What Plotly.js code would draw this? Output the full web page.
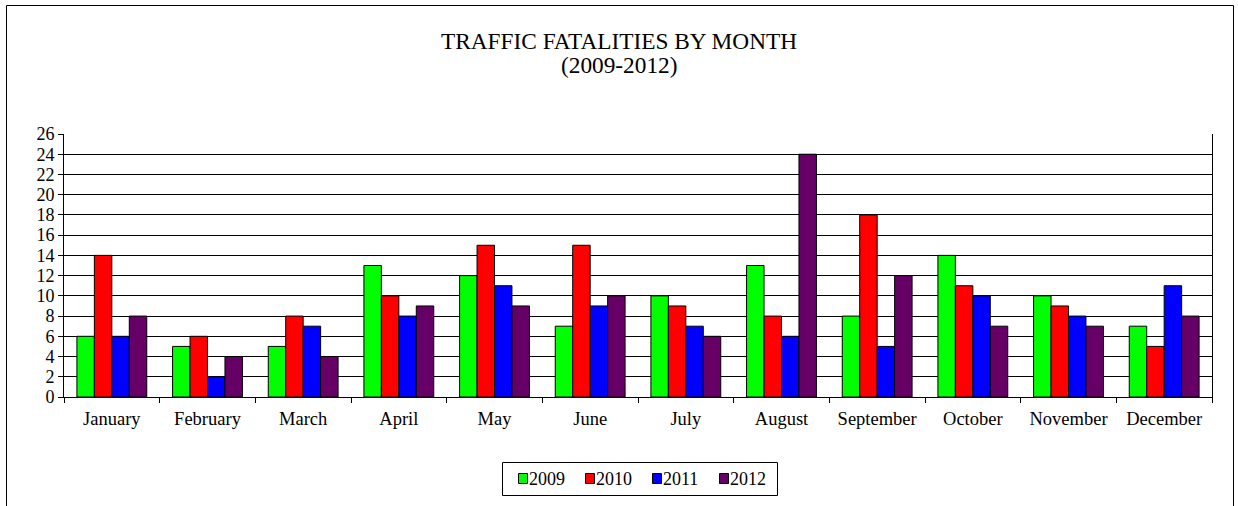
<!DOCTYPE html>
<html>
<head>
<meta charset="utf-8">
<script src="https://cdn.plot.ly/plotly-3.0.1.min.js"></script>
<style>html,body{margin:0;padding:0;background:#fff;}#chart{width:1238px;height:506px;}</style>
</head>
<body>
<div id="chart"></div>
<script>
const months = ["January","February","March","April","May","June","July","August","September","October","November","December"];
const years = ["2009","2010","2011","2012"];
const v2009 = [6,5,5,13,12,7,10,13,8,14,10,7];
const v2010 = [14,6,8,10,15,15,9,8,18,11,9,5];
const v2011 = [6,2,7,8,11,9,7,6,5,10,8,11];
const v2012 = [8,4,4,9,9,10,6,24,12,7,7,8];
const yTicks = [0,2,4,6,8,10,12,14,16,18,20,22,24,26];
const colors = ["#00ff00","#ff0000","#0000ff","#660066"];
const titleLines = ["TRAFFIC FATALITIES BY MONTH", "(2009-2012)"];
const series = [v2009, v2010, v2011, v2012];

const FONT = "Liberation Serif, Times New Roman, serif";

const traces = series.map((vals, i) => ({
  type: "bar",
  name: years[i],
  x: months,
  y: vals,
  marker: {color: colors[i], line: {color: "#000", width: 1}}
}));

const L = 64, R = 1212, T = 134, B = 397, W = 1238, H = 506;
const pw = R - L, ph = B - T;
const px = x => (x - L) / pw;
const py = y => (B - y) / ph;

const shapes = [{
  type: "rect", xref: "paper", yref: "paper",
  x0: px(6.5), x1: px(1233.5), y0: py(520), y1: py(5.5),
  line: {color: "#000", width: 1}, fillcolor: "rgba(0,0,0,0)", layer: "below"
}, {
  type: "rect", xref: "paper", yref: "paper",
  x0: px(502.5), x1: px(777.5), y0: py(495.5), y1: py(462.5),
  line: {color: "#000", width: 1}, fillcolor: "#fff", layer: "above"
}];

const annotations = [
  {text: titleLines[0], cx: 618.5, cy: 41},
  {text: titleLines[1], cx: 618.5, cy: 65.5}
].map(a => ({
  text: a.text, xref: "paper", yref: "paper",
  x: px(a.cx), y: py(a.cy),
  xanchor: "center", yanchor: "middle", showarrow: false,
  font: {family: FONT, size: 23.3, color: "#000"}
}));

years.forEach((yr, i) => {
  const sx = 518 + i * 67;
  shapes.push({
    type: "rect", xref: "paper", yref: "paper",
    x0: px(sx + 0.5), x1: px(sx + 9.5), y0: py(483.5), y1: py(473.5),
    line: {color: "#000", width: 1}, fillcolor: colors[i], layer: "above"
  });
  annotations.push({
    text: yr, xref: "paper", yref: "paper",
    x: px(sx + 10), y: py(479), xanchor: "left", yanchor: "middle",
    showarrow: false, borderpad: 0,
    font: {family: FONT, size: 18, color: "#000"}
  });
});

const layout = {
  width: W, height: H,
  margin: {l: L, r: W - R, t: T, b: H - B, pad: 0},
  paper_bgcolor: "#fff", plot_bgcolor: "#fff",
  font: {family: FONT, size: 18, color: "#000"},
  barmode: "group",
  bargap: 0.27,
  bargroupgap: 0,
  showlegend: false,
  xaxis: {
    type: "category",
    automargin: false,
    showline: true, linecolor: "#000", linewidth: 1,
    ticks: "outside", tickson: "boundaries", ticklen: 5, tickcolor: "#000",
    ticklabelstandoff: 5,
    tickfont: {family: FONT, size: 18.5},
    showgrid: false,
    fixedrange: true
  },
  yaxis: {
    range: [0, 26],
    automargin: false,
    tickvals: yTicks,
    ticktext: yTicks.map(String),
    showline: true, linecolor: "#000", linewidth: 1, mirror: true,
    ticks: "outside", ticklen: 5, tickcolor: "#000",
    tickfont: {family: FONT, size: 18},
    showgrid: true, gridcolor: "#000", gridwidth: 1,
    zeroline: false,
    fixedrange: true
  },
  shapes: shapes,
  annotations: annotations
};

Plotly.newPlot("chart", traces, layout, {displayModeBar: false, staticPlot: true});
</script>
</body>
</html>
